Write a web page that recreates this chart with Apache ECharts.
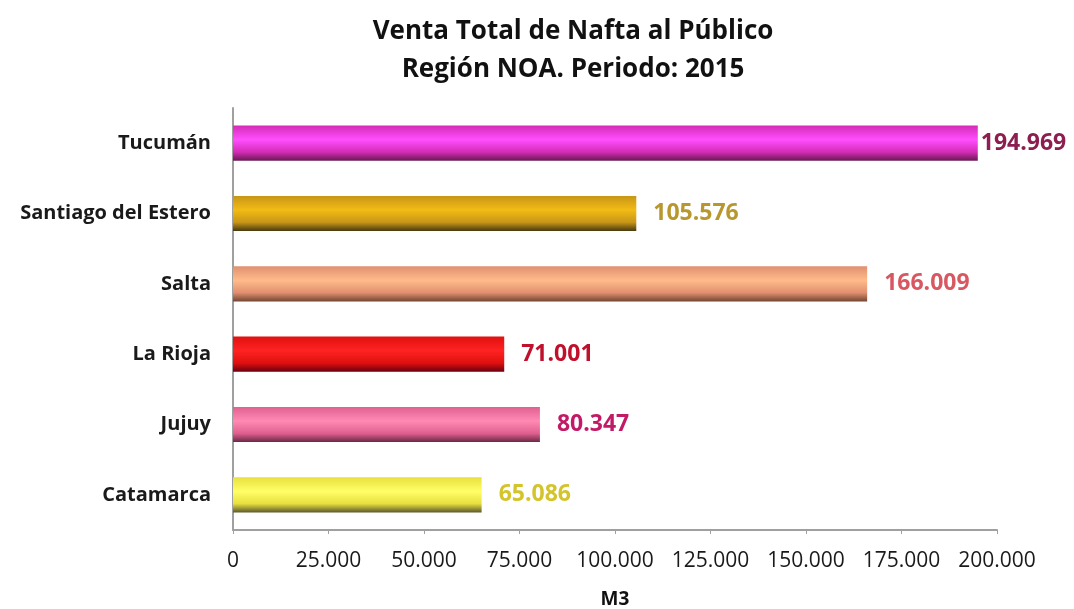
<!DOCTYPE html>
<html lang="es">
<head>
    <meta charset="UTF-8">
    <title>Venta Total de Nafta al Público</title>
    <script src="https://cdn.jsdelivr.net/npm/echarts@6/dist/echarts.min.js"></script>
    <style>
        html, body { margin: 0; padding: 0; background: #fff; }
        #container { width: 1074px; height: 609px; }
    </style>
</head>
<body>
<div id="container"></div>
<script type="text/javascript">
    // datos (de abajo hacia arriba)
    const provincias = ['Catamarca', 'Jujuy', 'La Rioja', 'Salta', 'Santiago del Estero', 'Tucumán'];
    const ventas = [65086, 80347, 71001, 166009, 105576, 194969];
    const ticksX = [0, 25000, 50000, 75000, 100000, 125000, 150000, 175000, 200000];

    // colores de barra: [borde sup, brillo, sombra inferior]
    const colorBarra = [
        ['#e8e040', '#ffff66', '#5c5a2c'],
        ['#e06090', '#ff8ab4', '#6a2844'],
        ['#e01010', '#ff2222', '#6a0010'],
        ['#e09070', '#ffbb8a', '#744634'],
        ['#c89618', '#f2bb14', '#463810'],
        ['#d42cb6', '#ff4eff', '#6a1852']
    ];
    const colorEtiqueta = ['#d4c42c', '#c21a66', '#c0102c', '#d85862', '#b8982e', '#8c1e50'];

    const fuente = '"Open Sans", Lato, sans-serif';

    function miles(v) {
        return String(v).replace(/\B(?=(\d{3})+(?!\d))/g, '.');
    }

    let myChart = echarts.init(document.getElementById('container'));

    let datos = ventas.map(function (v, i) {
        return {
            value: v,
            itemStyle: {
                color: {
                    type: 'linear', x: 0, y: 0, x2: 0, y2: 1,
                    colorStops: [
                        {offset: 0, color: colorBarra[i][0]},
                        {offset: 0.4, color: colorBarra[i][1]},
                        {offset: 0.75, color: colorBarra[i][0]},
                        {offset: 1, color: colorBarra[i][2]}
                    ]
                }
            },
            label: {
                color: colorEtiqueta[i],
                distance: i === 5 ? 3 : 17
            }
        };
    });

    let option = {
        backgroundColor: '#fff',
        title: {
            text: 'Venta Total de Nafta al Público\nRegión NOA. Periodo: 2015',
            left: 568,
            top: 8,
            textAlign: 'center',
            textStyle: {
                fontFamily: fuente,
                fontWeight: 'bold',
                fontSize: 26,
                lineHeight: 38,
                color: '#111'
            }
        },
        grid: {
            left: 233,
            right: 77,
            top: 108,
            bottom: 79,
            outerBoundsMode: 'none'
        },
        xAxis: {
            type: 'value',
            min: 0,
            max: 200000,
            interval: 25000,
            name: 'M3',
            nameLocation: 'middle',
            nameGap: 60,
            nameTextStyle: {
                fontFamily: fuente,
                fontWeight: 'bold',
                fontSize: 19,
                color: '#111'
            },
            splitLine: {show: false},
            axisLine: {show: true, lineStyle: {color: '#a0a0a0', width: 2}},
            axisTick: {show: true, length: 4, inside: false, lineStyle: {color: '#a0a0a0'}},
            axisLabel: {
                margin: 21,
                fontFamily: fuente,
                fontSize: 21,
                color: '#1a1a1a',
                formatter: function (v) {
                    return ticksX.indexOf(v) >= 0 ? miles(v) : '';
                }
            }
        },
        yAxis: {
            type: 'category',
            data: provincias,
            axisLine: {show: true, lineStyle: {color: '#a0a0a0', width: 2}},
            axisTick: {show: false},
            axisLabel: {
                margin: 22,
                fontFamily: fuente,
                fontWeight: 'bold',
                fontSize: 20,
                color: '#1a1a1a'
            }
        },
        series: [{
            type: 'bar',
            barWidth: '50%',
            data: datos,
            label: {
                show: true,
                position: 'right',
                fontFamily: fuente,
                fontWeight: 'bold',
                fontSize: 23,
                formatter: function (p) {
                    return miles(p.value);
                }
            }
        }]
    };

    myChart.setOption(option);
</script>
</body>
</html>
